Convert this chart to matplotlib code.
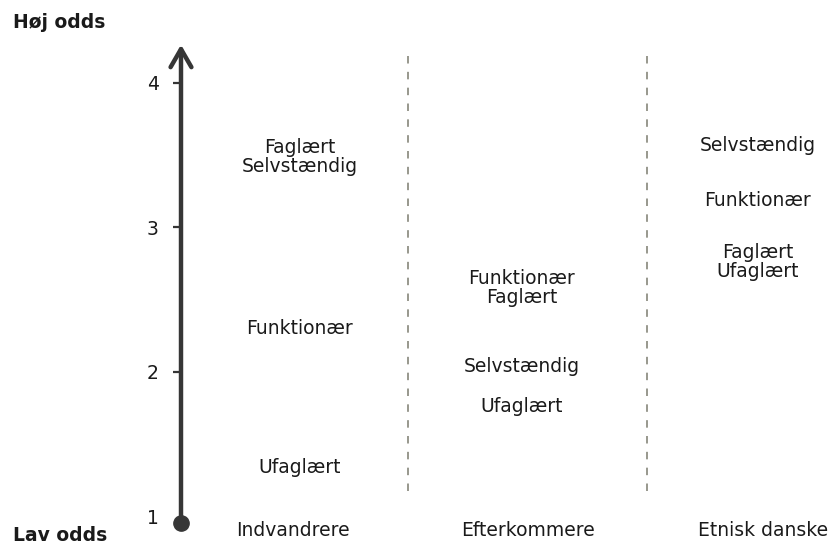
import matplotlib
matplotlib.use("Agg")
import matplotlib.pyplot as plt

# ---- data -------------------------------------------------------------
groups = ["Indvandrere", "Efterkommere", "Etnisk danske"]
occupations_indvandrere = ["Faglært", "Selvstændig", "Funktionær", "Ufaglært"]
odds_indvandrere = [3.49, 3.49, 2.30, 1.34]
occupations_efterkommere = ["Funktionær", "Faglært", "Selvstændig", "Ufaglært"]
odds_efterkommere = [2.58, 2.58, 2.04, 1.76]
occupations_etnisk = ["Selvstændig", "Funktionær", "Faglært", "Ufaglært"]
odds_etnisk = [3.57, 3.19, 2.76, 2.76]
tick_values = [1, 2, 3, 4]
tick_labels = ["1", "2", "3", "4"]
top_label = "Høj odds"
bottom_label = "Lav odds"

# ---- layout -----------------------------------------------------------
W, H, DPI = 839, 546, 100
col_x = [300, 522, 758]
group_label_x = [293, 528, 763]
sep_x = [408, 647]
axis_x = 181
FONT = "DejaVu Sans"
FS = 13.5
TXT = "#1a1a1a"
AX_COL = "#363636"

fig = plt.figure(figsize=(W / DPI, H / DPI), dpi=DPI)
ax = fig.add_axes([0, 0, 1, 1])
ax.set_xlim(0, W)
ax.set_ylim(0.796, 4.574)
for s in ax.spines.values():
    s.set_visible(False)
ax.set_xticks([])

# y axis ticks on a positioned (invisible) spine
ax.spines["left"].set_position(("data", axis_x))
ax.set_yticks(tick_values)
ax.set_yticklabels(tick_labels, fontfamily=FONT, fontsize=FS, color=TXT)
ax.tick_params(axis="y", direction="out", length=6, width=1.6,
               color=AX_COL, pad=10)
ax.yaxis.get_major_ticks()[0].tick1line.set_visible(False)
for lab in ax.get_yticklabels():
    lab.set_verticalalignment("center_baseline")

# main arrow axis
ax.annotate("", xy=(axis_x, 4.265), xytext=(axis_x, 0.955),
            arrowprops=dict(arrowstyle="->,head_length=1.3,head_width=0.75",
                            color=AX_COL, lw=3.2, shrinkA=0, shrinkB=0,
                            capstyle="round", joinstyle="round"),
            zorder=3)
ax.plot([axis_x], [0.955], "o", ms=11, color=AX_COL, zorder=4)

# dashed separators
for x in sep_x:
    ax.plot([x, x], [1.18, 4.19], color="#86867a", lw=1.2,
            dashes=(4.5, 5.0), zorder=1)


def place(x, names, vals):
    grouped = {}
    order = []
    for n, v in zip(names, vals):
        if v not in grouped:
            grouped[v] = []
            order.append(v)
        grouped[v].append(n)
    for v in order:
        ax.text(x, v, "\n".join(grouped[v]), ha="center", va="center",
                fontfamily=FONT, fontsize=FS, color=TXT, linespacing=1.0)


place(col_x[0], occupations_indvandrere, odds_indvandrere)
place(col_x[1], occupations_efterkommere, odds_efterkommere)
place(col_x[2], occupations_etnisk, odds_etnisk)

for x, g in zip(group_label_x, groups):
    ax.text(x, 0.905, g, ha="center", va="center", fontfamily=FONT,
            fontsize=FS, color=TXT)

ax.text(13, 4.42, top_label, ha="left", va="center", fontfamily=FONT,
        fontsize=FS, fontweight="bold", color=TXT)
ax.text(13, 0.802, bottom_label, ha="left", va="bottom", fontfamily=FONT,
        fontsize=FS, fontweight="bold", color=TXT)

fig.savefig("out.png", dpi=DPI, facecolor="white")
